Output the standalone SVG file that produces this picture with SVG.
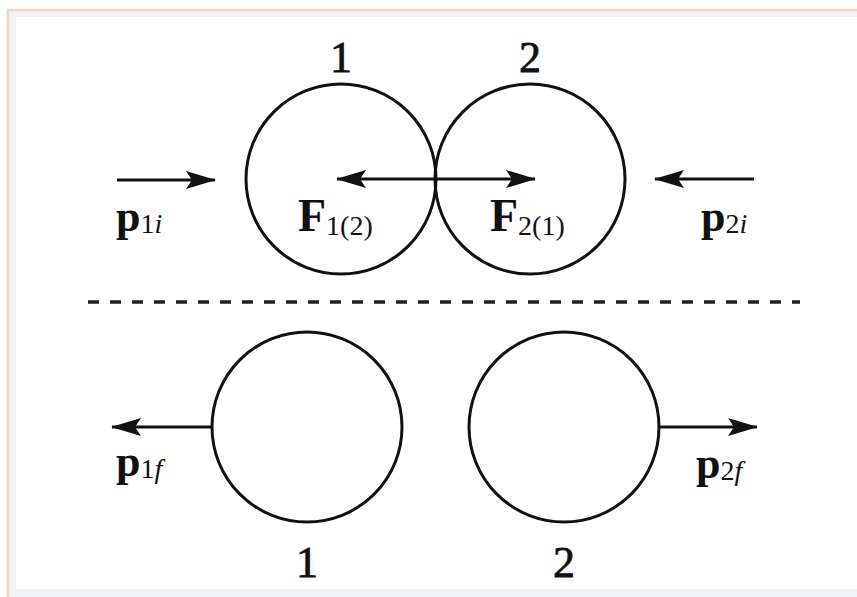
<svg xmlns="http://www.w3.org/2000/svg" width="857" height="597" viewBox="0 0 857 597">
<defs>
<style>
.ball{fill:none;stroke:#111;stroke-width:3}
.vec{stroke:#111;stroke-width:3;fill:none}
.num{font-family:"Liberation Serif","Times New Roman",serif;font-size:44px;fill:#111;stroke:#111;stroke-width:0.8;text-anchor:middle}
.lbl{font-family:"Liberation Serif","Times New Roman",serif;font-size:44px;font-weight:bold;fill:#111}
.big{font-size:46px}
.sub{font-size:28px;font-weight:normal}
.it{font-style:italic}
</style>
<marker id="ah" viewBox="0 0 30 18" refX="29" refY="9" markerWidth="30" markerHeight="18" markerUnits="userSpaceOnUse" orient="auto-start-reverse">
<path d="M0,0 L30,9 L0,18 L6,9 Z" fill="#111"/>
</marker>
</defs>
<rect x="0" y="0" width="857" height="597" fill="#ffffff"/>
<rect x="8" y="10" width="849" height="587" fill="#eff2f2"/>
<rect x="16" y="17" width="841" height="572" fill="#ffffff"/>
<path d="M8,597 V10 H857" fill="none" stroke="#f6cfc8" stroke-width="2.5"/>

<g id="ball1-initial">
<circle class="ball" cx="341" cy="179" r="95"/>
<text class="num" x="341" y="72">1</text>
</g>
<g id="ball2-initial">
<circle class="ball" cx="530" cy="179" r="95"/>
<text class="num" x="530" y="72">2</text>
</g>
<g id="ball1-final">
<circle class="ball" cx="307" cy="427" r="95"/>
<text class="num" x="307" y="577">1</text>
</g>
<g id="ball2-final">
<circle class="ball" cx="564" cy="427" r="95"/>
<text class="num" x="564" y="577">2</text>
</g>

<g id="separator">
<line x1="88" y1="302" x2="800" y2="302" stroke="#222" stroke-width="3.5" stroke-dasharray="11 11"/>
</g>

<g id="connectors">
<line class="vec" x1="117" y1="180" x2="215" y2="180" marker-end="url(#ah)"/>
<line class="vec" x1="337" y1="179" x2="535" y2="179" marker-start="url(#ah)" marker-end="url(#ah)"/>
<line class="vec" x1="754" y1="179" x2="655" y2="179" marker-end="url(#ah)"/>
<line class="vec" x1="211" y1="427" x2="112" y2="427" marker-end="url(#ah)"/>
<line class="vec" x1="659" y1="427" x2="757" y2="427" marker-end="url(#ah)"/>
</g>

<g id="labels">
<text class="lbl" x="116" y="231">p<tspan class="sub" dy="2">1<tspan class="it">i</tspan></tspan></text>
<text class="lbl big" x="298" y="231">F<tspan class="sub" dy="4">1(2)</tspan></text>
<text class="lbl big" x="490" y="231">F<tspan class="sub" dy="4">2(1)</tspan></text>
<text class="lbl" x="701" y="231">p<tspan class="sub" dy="2">2<tspan class="it">i</tspan></tspan></text>
<text class="lbl" x="116" y="476">p<tspan class="sub" dy="2">1<tspan class="it">f</tspan></tspan></text>
<text class="lbl" x="696" y="478">p<tspan class="sub" dy="2">2<tspan class="it">f</tspan></tspan></text>
</g>
</svg>
